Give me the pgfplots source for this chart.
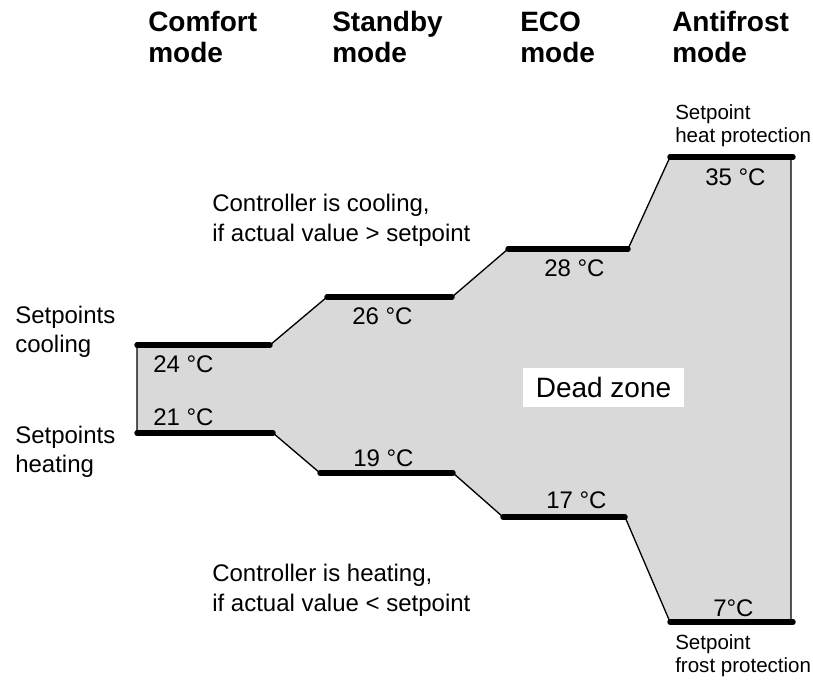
\documentclass[border=0pt]{standalone}
\usepackage{pgfplots}
\pgfplotsset{compat=1.18}
\usepackage{fontspec}
\setmainfont{Liberation Sans}
\definecolor{dz}{HTML}{D9D9D9}
\newcommand{\tfont}{\fontsize{21}{24}\selectfont\bfseries}
\newcommand{\bfont}{\fontsize{18}{22}\selectfont}
\newcommand{\sfont}{\fontsize{15.4}{18}\selectfont}
\begin{document}
\begin{tikzpicture}
\begin{axis}[
  x=0.75pt, y=0.75pt,
  xmin=0, xmax=813, ymin=0, ymax=681,
  hide axis, clip=false,
]
\path (rel axis cs:0,0) rectangle (rel axis cs:1,1);
% dead zone polygon
\addplot[fill=dz, draw=black, line width=1pt] coordinates {
  (137,336) (270,336) (327,384) (452,384) (508,432) (628,432)
  (670,524) (791,524) (791,59) (670,59) (625,164) (503,164)
  (453,208) (320,208) (273,248) (137,248)
} --cycle;
% setpoint segments
\addplot[line width=4.1pt, line cap=round] coordinates {(137,336) (270,336)};
\addplot[line width=4.1pt, line cap=round] coordinates {(327,384) (452,384)};
\addplot[line width=4.1pt, line cap=round] coordinates {(508,432) (628,432)};
\addplot[line width=4.1pt, line cap=round] coordinates {(670,524) (793,524)};
\addplot[line width=4.1pt, line cap=round] coordinates {(137,248) (273,248)};
\addplot[line width=4.1pt, line cap=round] coordinates {(320,208) (453,208)};
\addplot[line width=4.1pt, line cap=round] coordinates {(503,164) (625,164)};
\addplot[line width=4.1pt, line cap=round] coordinates {(670,59) (793,59)};
% titles
\begin{scope}[every node/.style={inner sep=0pt, anchor=base west}]
\node[font=\tfont] at (axis cs:148,649) {Comfort};
\node[font=\tfont] at (axis cs:148,618) {mode};
\node[font=\tfont] at (axis cs:332,649) {Standby};
\node[font=\tfont] at (axis cs:332,618) {mode};
\node[font=\tfont] at (axis cs:520,649) {ECO};
\node[font=\tfont] at (axis cs:520,618) {mode};
\node[font=\tfont] at (axis cs:672,649) {Antifrost};
\node[font=\tfont] at (axis cs:672,618) {mode};
% body texts
\node[font=\bfont] at (axis cs:212,469) {Controller is cooling,};
\node[font=\bfont] at (axis cs:212,439) {if actual value > setpoint};
\node[font=\bfont] at (axis cs:212,99) {Controller is heating,};
\node[font=\bfont] at (axis cs:212,69) {if actual value < setpoint};
\node[font=\bfont] at (axis cs:15,357) {Setpoints};
\node[font=\bfont] at (axis cs:15,328) {cooling};
\node[font=\bfont] at (axis cs:15,237) {Setpoints};
\node[font=\bfont] at (axis cs:15,208) {heating};
\node[font=\sfont] at (axis cs:675,561) {Setpoint};
\node[font=\sfont] at (axis cs:675,538) {heat protection};
\node[font=\sfont] at (axis cs:675,31) {Setpoint};
\node[font=\sfont] at (axis cs:675,8) {frost protection};
% temperatures
\node[font=\bfont] at (axis cs:153,308) {24 °C};
\node[font=\bfont] at (axis cs:153,255) {21 °C};
\node[font=\bfont] at (axis cs:352,356) {26 °C};
\node[font=\bfont] at (axis cs:353,214) {19 °C};
\node[font=\bfont] at (axis cs:544,404) {28 °C};
\node[font=\bfont] at (axis cs:705,495) {35 °C};
\node[font=\bfont] at (axis cs:546,172) {17 °C};
\node[font=\bfont] at (axis cs:713,64) {7°C};
\end{scope}
\node[fill=white, inner sep=0pt, minimum width=120.75pt, minimum height=29.25pt,
  font=\fontsize{21}{24}\selectfont] at (axis cs:603.5,293.5) {Dead zone};
\end{axis}
\end{tikzpicture}
\end{document}
